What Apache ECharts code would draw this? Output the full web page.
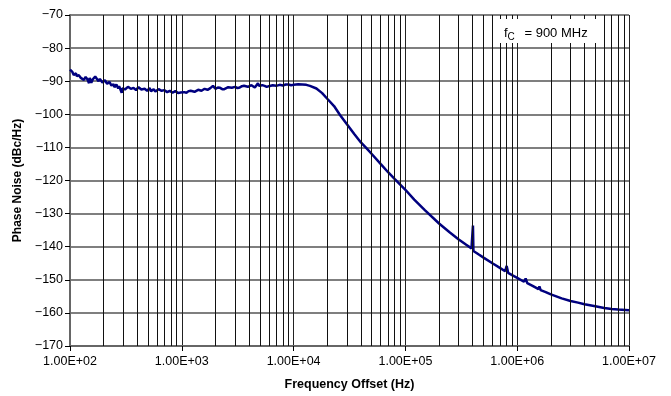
<!DOCTYPE html>
<html>
<head>
<meta charset="utf-8">
<script src="https://cdn.jsdelivr.net/npm/echarts@6/dist/echarts.min.js"></script>
<style>html,body{margin:0;padding:0;background:#fff}#c{width:671px;height:396px}</style>
</head>
<body>
<div id="c"></div>
<script>
// Frequency offsets (Hz)
var freqs = [100,103,105,108,110,113,115,118,120,123,125,128,130,133,135,138,140,143,145,148,150,153,155,158,160,163,165,168,170,175,180,185,190,195,200,205,210,215,220,225,230,235,240,245,250,255,260,265,270,275,280,285,290,295,300,310,320,330,340,350,360,370,380,390,400,410,420,435,450,465,480,490,500,515,530,545,560,580,600,620,640,660,680,700,720,740,760,780,800,825,850,875,900,925,950,975,1000,1050,1100,1150,1200,1250,1300,1350,1400,1450,1500,1550,1600,1650,1700,1750,1800,1850,1900,1950,2000,2100,2200,2300,2400,2500,2600,2700,2800,2900,3000,3150,3300,3450,3600,3750,3900,4050,4200,4350,4500,4650,4800,4900,5000,5250,5500,5750,6000,6250,6500,6750,7000,7250,7500,7750,8000,8500,9000,9500,10000,11000,12000,13000,14000,16000,18000,20000,23000,26000,30000,35000,40000,45000,50000,60000,70000,80000,100000,120000,150000,200000,250000,300000,350000,390000,398000,402000,406000,450000,500000,600000,700000,780000,805000,830000,900000,1000000,1150000,1190000,1230000,1400000,1550000,1580000,1620000,1800000,2000000,2500000,3000000,3500000,4000000,5000000,6000000,7000000,8000000,10000000];
// Phase noise (dBc/Hz)
var noise = [-86.5,-86.9,-87.2,-88.1,-88.0,-87.6,-88.5,-89.1,-88.2,-88.7,-89.0,-88.4,-88.6,-89.6,-89.5,-88.7,-88.8,-89.4,-89.8,-90.6,-89.0,-89.7,-90.5,-89.9,-89.4,-88.9,-89.0,-88.6,-88.5,-89.2,-90.0,-89.3,-89.6,-90.4,-90.3,-89.7,-89.8,-90.8,-91.0,-90.2,-90.4,-91.3,-91.2,-90.9,-91.8,-91.2,-91.0,-91.6,-92.2,-91.5,-91.4,-92.0,-93.5,-92.1,-91.8,-92.5,-92.2,-91.7,-91.6,-92.3,-92.6,-92.0,-92.0,-92.7,-92.4,-91.8,-91.9,-92.5,-92.8,-92.3,-92.2,-92.9,-92.6,-92.1,-93.0,-92.6,-92.4,-93.1,-92.8,-92.4,-92.2,-92.9,-93.2,-92.7,-92.6,-93.3,-93.4,-92.9,-92.7,-93.5,-93.8,-93.0,-93.2,-93.6,-94.0,-93.4,-93.0,-93.3,-93.5,-93.0,-92.9,-93.4,-93.2,-92.8,-92.6,-93.1,-92.9,-92.5,-92.3,-92.8,-92.6,-92.2,-92.1,-91.7,-91.4,-92.0,-92.3,-91.9,-92.0,-92.4,-92.4,-91.9,-91.8,-92.2,-92.0,-91.6,-91.7,-92.1,-91.9,-91.5,-91.4,-91.8,-91.7,-91.3,-91.2,-91.6,-91.9,-91.3,-90.6,-91.4,-91.6,-91.2,-91.4,-91.7,-91.5,-91.1,-91.2,-91.5,-91.4,-91.0,-91.1,-91.4,-91.3,-91.0,-91.0,-91.2,-91.1,-90.9,-91.0,-91.1,-91.4,-92.2,-93.6,-95.3,-97.5,-100.2,-103.0,-106.0,-108.5,-110.3,-112.0,-115.0,-117.5,-119.5,-122.8,-125.8,-129.0,-133.0,-135.7,-137.8,-139.4,-140.5,-140.7,-133.6,-141.3,-142.3,-143.3,-145.0,-146.4,-147.4,-145.8,-147.9,-148.6,-149.4,-150.6,-149.6,-151.0,-152.0,-152.8,-152.0,-153.1,-153.7,-154.4,-155.6,-156.4,-156.9,-157.4,-158.0,-158.5,-158.8,-159.0,-159.2];
// Minor vertical grid frequencies
var minorFreqs = [];
[100,1000,10000,100000,1000000].forEach(function(d){ for (var k=2;k<=9;k++) minorFreqs.push(d*k); });
var xTickLabels = {100:'1.00E+02',1000:'1.00E+03',10000:'1.00E+04',100000:'1.00E+05',1000000:'1.00E+06',10000000:'1.00E+07'};

var data = freqs.map(function(f,i){ return [f, noise[i]]; });
var font = '"Liberation Sans", Arial, sans-serif';
var chart = echarts.init(document.getElementById('c'), null, {renderer:'canvas'});
chart.setOption({
  animation:false,
  backgroundColor:'#fff',
  textStyle:{fontFamily:font},
  title:{
    text:'{a|f}{b|C}{a| = 900 MHz}',
    left:495, top:17,
    backgroundColor:'#fff',
    padding:[8,15,1,9],
    textStyle:{fontFamily:font, fontWeight:'normal', rich:{
      a:{fontSize:13, color:'#000', fontWeight:'normal', fontFamily:font},
      b:{fontSize:10, color:'#000', fontWeight:'normal', fontFamily:font, padding:[7,6,0,0]}
    }}
  },
  grid:{left:70, right:42, top:15, bottom:48, containLabel:false},
  xAxis:{
    type:'log', logBase:10, min:100, max:10000000,
    name:'Frequency Offset (Hz)', nameLocation:'middle', nameGap:32,
    nameTextStyle:{fontWeight:'bold', fontSize:12.5, color:'#000', fontFamily:font},
    axisLine:{show:true, lineStyle:{color:'#666', width:2}},
    axisTick:{show:true, length:5, lineStyle:{color:'#000'}},
    axisLabel:{fontSize:12.5, color:'#000', margin:9, fontFamily:font, formatter:function(v){ return xTickLabels[Math.round(v)] || ''; }},
    splitLine:{show:true, lineStyle:{color:'#222', width:1}},
    minorTick:{show:false}, minorSplitLine:{show:false}
  },
  yAxis:{
    type:'value', min:-170, max:-70, interval:10,
    name:'Phase Noise (dBc/Hz)', nameLocation:'middle', nameGap:46, nameRotate:90,
    nameTextStyle:{fontWeight:'bold', fontSize:12, color:'#000', fontFamily:font},
    axisLine:{show:true, lineStyle:{color:'#666', width:2}},
    axisTick:{show:true, length:5, lineStyle:{color:'#000'}},
    axisLabel:{fontSize:12.5, color:'#000', margin:7, fontFamily:font, formatter:function(v){ return String(v).replace('-','\u2212'); }},
    splitLine:{show:true, lineStyle:{color:'#555', width:1.5}}
  },
  series:[
    {
      type:'line', data:[], z:1, silent:true,
      markLine:{
        silent:true, symbol:['none','none'], label:{show:false},
        lineStyle:{type:'solid', color:'#111', width:1},
        emphasis:{disabled:true},
        data: minorFreqs.map(function(f){ return {xAxis:f}; })
      }
    },
    {
      type:'line', data:data, z:3, showSymbol:false, symbol:'none',
      lineStyle:{color:'#00007f', width:2.5}
    }
  ]
});
</script>
</body>
</html>
